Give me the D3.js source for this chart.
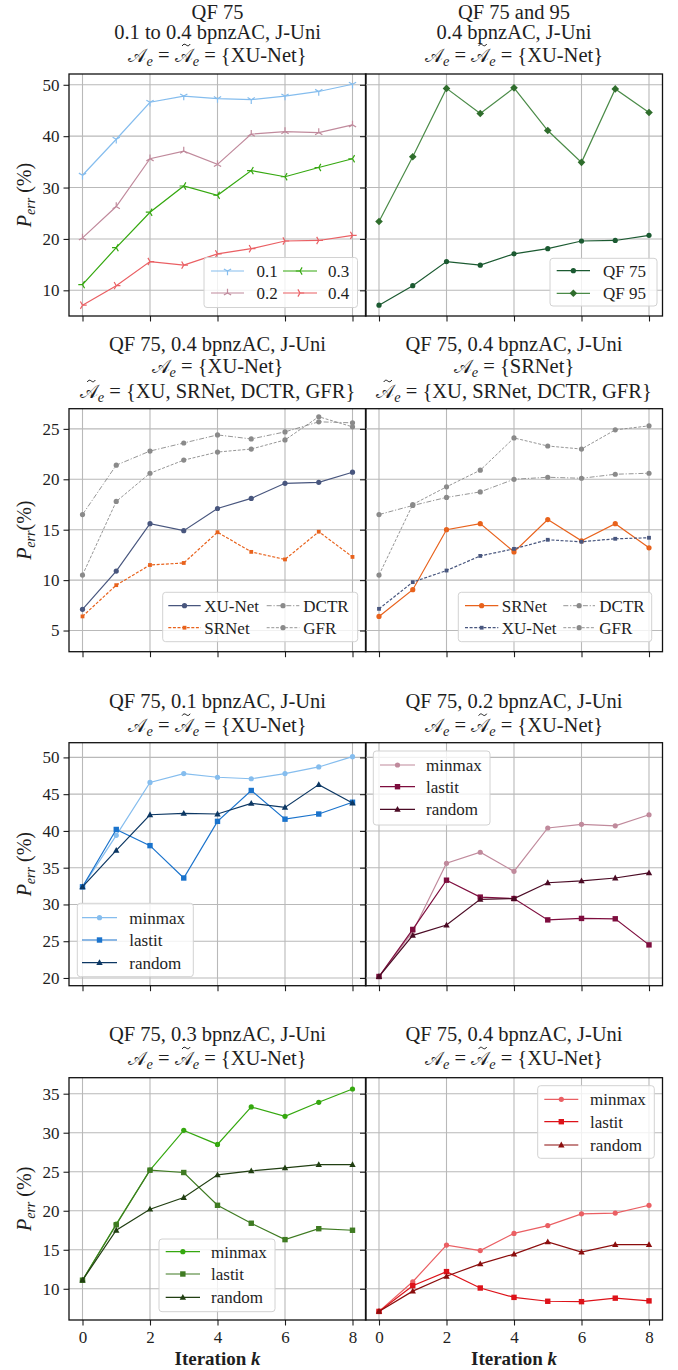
<!DOCTYPE html>
<html><head><meta charset="utf-8">
<script src="https://cdn.jsdelivr.net/npm/d3@7"></script>
<style>
body{margin:0;background:#fff}
svg{display:block}
svg text, svg tspan{font-family:"Liberation Serif",serif;fill:#1e1e1e}
svg tspan.cal{font-family:"Liberation Serif",serif}
</style>
</head><body>
<svg id="c" width="678" height="1370"></svg>
<script>
// ---------------- DATA ----------------
const iterations = [0,1,2,3,4,5,6,7,8];
const xTicks = [0,2,4,6,8];
const yTicksRow1 = [10,20,30,40,50];
const yTicksRow2 = [5,10,15,20,25];
const yTicksRow3 = [20,25,30,35,40,45,50];
const yTicksRow4 = [10,15,20,25,30,35];

// Panel 1: payload 0.1 .. 0.4 (minmax)
const rate01 = [32.4,39.4,46.6,47.8,47.3,47.1,47.8,48.7,50.1];
const rate02 = [20.2,26.3,35.6,37.1,34.5,40.4,40.9,40.7,42.2];
const rate03 = [11.1,18.3,25.2,30.3,28.5,33.3,32.1,33.9,35.6];
const rate04 = [7.1,10.9,15.6,14.9,17.1,18.1,19.6,19.7,20.7];
const rateLabels = ["0.1","0.2","0.3","0.4"];

// Panel 2: QF 75 and QF 95
const qf75 = [7.1,10.9,15.6,14.9,17.1,18.1,19.6,19.7,20.7];
const qf95 = [23.4,36.0,49.3,44.4,49.4,41.1,34.9,49.2,44.6];

// Panel 3: A_e = {XU-Net}
const xuXu   = [7.1,10.9,15.6,14.9,17.1,18.1,19.6,19.7,20.7];
const xuSr   = [6.4,9.5,11.5,11.7,14.75,12.8,12.05,14.8,12.3];
const xuDctr = [16.5,21.4,22.8,23.6,24.4,24.0,24.7,25.7,25.6];
const xuGfr  = [10.5,17.8,20.6,21.9,22.7,23.0,23.9,26.2,25.2];

// Panel 4: A_e = {SRNet}
const srSr   = [6.4,9.05,15.0,15.6,12.8,16.0,13.9,15.6,13.2];
const srXu   = [7.15,9.8,10.95,12.4,13.1,14.0,13.8,14.1,14.2];
const srDctr = [16.5,17.4,18.2,18.75,20.0,20.2,20.1,20.5,20.6];
const srGfr  = [10.5,17.5,19.25,20.9,24.1,23.3,23.0,24.9,25.3];

// Panels 5-8: minmax / lastit / random
const minmax01 = [32.4,39.4,46.6,47.8,47.3,47.1,47.8,48.7,50.1];
const lastit01 = [32.4,40.2,38.0,33.6,41.3,45.5,41.6,42.3,43.9];
const random01 = [32.4,37.35,42.2,42.4,42.3,43.75,43.2,46.3,43.8];
const minmax02 = [20.2,26.3,35.6,37.1,34.5,40.4,40.9,40.7,42.2];
const lastit02 = [20.2,26.6,33.3,31.0,30.8,27.9,28.1,28.05,24.5];
const random02 = [20.2,25.8,27.2,30.7,30.8,32.95,33.2,33.6,34.3];
const minmax03 = [11.1,18.3,25.2,30.3,28.5,33.3,32.1,33.9,35.6];
const lastit03 = [11.1,18.2,25.2,24.9,20.7,18.4,16.3,17.7,17.5];
const random03 = [11.1,17.5,20.2,21.7,24.6,25.1,25.5,25.9,25.9];
const minmax04 = [7.1,10.9,15.6,14.9,17.1,18.1,19.6,19.7,20.7];
const lastit04 = [7.1,10.4,12.2,10.1,8.9,8.4,8.35,8.8,8.45];
const random04 = [7.1,9.7,11.6,13.2,14.45,16.0,14.7,15.65,15.65];
const strategyLabels = ["minmax","lastit","random"];

// ---------------- LAYOUT ----------------
const svg = d3.select("#c");
const SERIF = "font-family:'Liberation Serif',serif";
const COLS = [{x0:69,x1:366},{x0:365.5,x1:662.5}];
const ROWS = [
  {y0:74,   y1:316,  dom:[5.0,52.1],   ticks:yTicksRow1, ylab:" (%)", titleY:[18.5,39,62]},
  {y0:408.7,y1:651.7,dom:[2.9,27.0],   ticks:yTicksRow2, ylab:"(%)",  titleY:[351,373,398]},
  {y0:742.7,y1:985.7,dom:[18.95,52.0], ticks:yTicksRow3, ylab:" (%)", titleY:[708.3,731.7]},
  {y0:1077.7,y1:1320,dom:[6.0,37.05],  ticks:yTicksRow4, ylab:" (%)", titleY:[1040.7,1065]}
];
const GRID = "#b9b9b9";
const TICKFS = 17, TITLEFS = 20.5;

const M = "\u{1D49C}"; // calligraphic A
const mathXU   = [{t:M,cal:1},{sub:"e"},{t:" = "},{t:M,cal:1,tilde:1},{sub:"e"},{t:" = {XU-Net}"}];
const mathXUo  = [{t:M,cal:1},{sub:"e"},{t:" = {XU-Net}"}];
const mathSRo  = [{t:M,cal:1},{sub:"e"},{t:" = {SRNet}"}];
const mathAll  = [{t:M,cal:1,tilde:1},{sub:"e"},{t:" = {XU, SRNet, DCTR, GFR}"}];

const C = {
  c01:"#85bdee", c02:"#c08a9c", c03:"#35a80f", c04:"#ea5f63",
  qf75:"#1b5a31", qf95:"#4b8b48", qf95m:"#2f6d2c",
  xu:"#48567e", sr:"#e8621c", grey:"#8a8a8a",
  l1:"#1a73cc", r1:"#0c3763", l2:"#7e0d3e", r2:"#4b0b25",
  l3:"#3f7b22", r3:"#213f12", l4:"#dd1219", r4:"#8b0d0d"
};

const panels = [
  {row:0,col:0,title:[[{t:"QF 75"}],[{t:"0.1 to 0.4 bpnzAC, J-Uni"}],mathXU],
   series:[
     {name:rateLabels[0],v:rate01,color:C.c01,marker:"tri_down"},
     {name:rateLabels[1],v:rate02,color:C.c02,marker:"tri_up"},
     {name:rateLabels[2],v:rate03,color:C.c03,marker:"tri_left"},
     {name:rateLabels[3],v:rate04,color:C.c04,marker:"tri_right"}],
   legend:{box:[204,257.5,153.5,50],cols:[[211,244,256.5],[283,317,328]],rows:[271,293]}},
  {row:0,col:1,title:[[{t:"QF 75 and 95"}],[{t:"0.4 bpnzAC, J-Uni"}],mathXU],
   series:[
     {name:"QF 75",v:qf75,color:C.qf75,marker:"circle"},
     {name:"QF 95",v:qf95,color:C.qf95,mcolor:C.qf95m,marker:"plus"}],
   legend:{box:[550,258.3,107,47.7],cols:[[556.7,590,603]],rows:[270.7,293.3]}},
  {row:1,col:0,title:[[{t:"QF 75, 0.4 bpnzAC, J-Uni"}],mathXUo,mathAll],
   series:[
     {name:"XU-Net",v:xuXu,color:C.xu,marker:"circle"},
     {name:"SRNet",v:xuSr,color:C.sr,marker:"smallsq",dash:"3,1.6"},
     {name:"DCTR",v:xuDctr,color:C.grey,marker:"circle",dash:"5,1.8,1.2,1.8",w:0.9},
     {name:"GFR",v:xuGfr,color:C.grey,marker:"circle",dash:"3,1.6",w:0.9}],
   legend:{box:[162.7,592.3,195,49.4],cols:[[168.3,200.7,204.3],[266.7,299.3,303.3]],rows:[605.7,627.7]}},
  {row:1,col:1,title:[[{t:"QF 75, 0.4 bpnzAC, J-Uni"}],mathSRo,mathAll],
   series:[
     {name:"SRNet",v:srSr,color:C.sr,marker:"circle"},
     {name:"XU-Net",v:srXu,color:C.xu,marker:"smallsq",dash:"3,1.6"},
     {name:"DCTR",v:srDctr,color:C.grey,marker:"circle",dash:"5,1.8,1.2,1.8",w:0.9},
     {name:"GFR",v:srGfr,color:C.grey,marker:"circle",dash:"3,1.6",w:0.9}],
   legend:{box:[458.3,592.3,193.4,49.4],cols:[[465,498.3,501.7],[563.3,595,599.3]],rows:[605.7,627.7]}},
  {row:2,col:0,title:[[{t:"QF 75, 0.1 bpnzAC, J-Uni"}],mathXU],
   series:[
     {name:strategyLabels[0],v:minmax01,color:C.c01,marker:"circle"},
     {name:strategyLabels[1],v:lastit01,color:C.l1,marker:"square"},
     {name:strategyLabels[2],v:random01,color:C.r1,marker:"triangle"}],
   legend:{box:[77.3,903.3,116,73.4],cols:[[82,117,129.3]],rows:[917.7,940,962.7]}},
  {row:2,col:1,title:[[{t:"QF 75, 0.2 bpnzAC, J-Uni"}],mathXU],
   series:[
     {name:strategyLabels[0],v:minmax02,color:C.c02,marker:"circle"},
     {name:strategyLabels[1],v:lastit02,color:C.l2,marker:"square"},
     {name:strategyLabels[2],v:random02,color:C.r2,marker:"triangle"}],
   legend:{box:[373.3,751,116.7,74],cols:[[380,415,426]],rows:[765,786.7,809.3]}},
  {row:3,col:0,title:[[{t:"QF 75, 0.3 bpnzAC, J-Uni"}],mathXU],
   series:[
     {name:strategyLabels[0],v:minmax03,color:C.c03,marker:"circle"},
     {name:strategyLabels[1],v:lastit03,color:C.l3,marker:"square"},
     {name:strategyLabels[2],v:random03,color:C.r3,marker:"triangle"}],
   legend:{box:[159,1239,116,72.7],cols:[[165.7,200,211]],rows:[1251.7,1274,1297.3]}},
  {row:3,col:1,title:[[{t:"QF 75, 0.4 bpnzAC, J-Uni"}],mathXU],
   series:[
     {name:strategyLabels[0],v:minmax04,color:C.c04,marker:"circle"},
     {name:strategyLabels[1],v:lastit04,color:C.l4,marker:"square"},
     {name:strategyLabels[2],v:random04,color:C.r4,marker:"triangle"}],
   legend:{box:[537.7,1085.7,116.6,72.6],cols:[[544.3,578.3,590]],rows:[1099.3,1121.7,1145]}}
];

// ---------------- HELPERS ----------------
function marker(g, type, x, y, color) {
  const s = 4.2;
  if (type === "circle") {
    g.append("circle").attr("cx",x).attr("cy",y).attr("r",2.6).attr("fill",color);
  } else if (type === "square") {
    g.append("rect").attr("x",x-2.7).attr("y",y-2.7).attr("width",5.4).attr("height",5.4).attr("fill",color);
  } else if (type === "smallsq") {
    g.append("rect").attr("x",x-1.9).attr("y",y-1.9).attr("width",3.8).attr("height",3.8).attr("fill",color);
  } else if (type === "triangle") {
    g.append("path").attr("d",`M${x},${y-3.4}L${x+3.2},${y+2.4}L${x-3.2},${y+2.4}Z`).attr("fill",color);
  } else if (type === "plus") {
    g.append("path").attr("d",`M${x},${y-3.8}L${x+3.8},${y}L${x},${y+3.8}L${x-3.8},${y}Z`).attr("fill",color);
  } else if (type.startsWith("tri_")) {
    const ang = {tri_down:90, tri_up:-90, tri_left:180, tri_right:0}[type];
    let d = "";
    [0,120,240].forEach(a => {
      const r = (ang + a) * Math.PI/180;
      d += `M${x},${y}L${x+s*Math.cos(r)},${y+s*Math.sin(r)}`;
    });
    g.append("path").attr("d",d).attr("stroke",color).attr("stroke-width",1.2).attr("fill","none");
  }
}

function mathText(g, cx, y, spec, fs) {
  const t = g.append("text").attr("x",cx).attr("y",y).attr("text-anchor","middle")
    .attr("font-size",fs).attr("style",SERIF);
  let shifted = false; const tildes = [];
  spec.forEach(s => {
    const ts = t.append("tspan");
    if (s.sub) {
      ts.attr("font-size",fs*0.7).attr("dy",4).attr("font-style","italic").attr("style",SERIF).text(s.sub);
      shifted = true;
    } else {
      if (shifted) { ts.attr("dy",-4); shifted = false; }
      ts.text(s.t);
      if (s.cal) ts.attr("class","cal").attr("font-size",fs*0.95);
      else ts.attr("style",SERIF);
      if (s.tilde) tildes.push(ts);
    }
  });
  tildes.forEach(ts => {
    let b; try { b = ts.node().getBBox(); } catch(e) { b = null; }
    if (!b) return;
    const mx = b.x + b.width/2 + 1.5, my = y - 17;
    g.append("path")
      .attr("d",`M${mx-4},${my+1}c1.2,-2.2 2.6,-2.2 4,-1s2.8,1.2 4,-1`)
      .attr("stroke","#1e1e1e").attr("stroke-width",1).attr("fill","none");
  });
}

// ---------------- DRAW ----------------
panels.forEach(p => {
  const R = ROWS[p.row], CC = COLS[p.col];
  const x = d3.scaleLinear().domain([-0.4,8.4]).range([CC.x0,CC.x1]);
  const y = d3.scaleLinear().domain(R.dom).range([R.y1,R.y0]);
  const g = svg.append("g");

  // grid
  g.append("g").selectAll("line").data(xTicks).join("line")
    .attr("x1",d=>x(d)).attr("x2",d=>x(d)).attr("y1",R.y0).attr("y2",R.y1)
    .attr("stroke",GRID).attr("stroke-width",1.1);
  g.append("g").selectAll("line").data(R.ticks).join("line")
    .attr("x1",CC.x0).attr("x2",CC.x1).attr("y1",d=>y(d)).attr("y2",d=>y(d))
    .attr("stroke",GRID).attr("stroke-width",1.1);

  // axes
  const ya = d3.axisLeft(y).tickValues(R.ticks).tickSize(5.5).tickPadding(4);
  if (p.col === 1) ya.tickFormat("");
  const yg = g.append("g").attr("transform",`translate(${CC.x0},0)`).call(ya);
  const xa = d3.axisBottom(x).tickValues(xTicks).tickSize(5.5).tickPadding(5);
  if (p.row !== 3) xa.tickFormat("");
  const xg = g.append("g").attr("transform",`translate(0,${R.y1})`).call(xa);
  [yg,xg].forEach(a => {
    a.attr("font-family",null).attr("font-size",null);
    a.select(".domain").remove();
    a.selectAll(".tick line").attr("stroke","#1e1e1e").attr("stroke-width",1.1);
    a.selectAll(".tick text").attr("style",SERIF).attr("font-size",TICKFS).attr("fill","#1e1e1e");
  });

  // series
  const line = d3.line().x((d,i)=>x(iterations[i])).y(d=>y(d));
  p.series.forEach(s => {
    g.append("path").datum(s.v).attr("d",line).attr("fill","none")
      .attr("stroke",s.color).attr("stroke-width",s.w||1.2)
      .attr("stroke-dasharray",s.dash||null);
    const mg = g.append("g");
    s.v.forEach((v,i) => marker(mg, s.marker, x(iterations[i]), y(v), s.mcolor||s.color));
  });

  // spines
  g.append("rect").attr("x",CC.x0).attr("y",R.y0).attr("width",CC.x1-CC.x0).attr("height",R.y1-R.y0)
    .attr("fill","none").attr("stroke","#111").attr("stroke-width",1.3);

  // legend
  const L = p.legend, lg = svg.append("g");
  lg.append("rect").attr("x",L.box[0]).attr("y",L.box[1]).attr("width",L.box[2]).attr("height",L.box[3])
    .attr("rx",3).attr("fill","#fff").attr("fill-opacity",0.8).attr("stroke","#d2d2d2").attr("stroke-width",1);
  const nrows = L.rows.length;
  p.series.forEach((s,i) => {
    const c = L.cols[Math.floor(i/nrows)], ry = L.rows[i%nrows];
    lg.append("line").attr("x1",c[0]).attr("x2",c[1]).attr("y1",ry).attr("y2",ry)
      .attr("stroke",s.color).attr("stroke-width",s.w||1.2).attr("stroke-dasharray",s.dash||null);
    marker(lg, s.marker, (c[0]+c[1])/2, ry, s.mcolor||s.color);
    lg.append("text").attr("x",c[2]).attr("y",ry+6).attr("font-size",TICKFS).attr("style",SERIF).text(s.name);
  });

  // title
  const cx = (CC.x0+CC.x1)/2;
  p.title.forEach((spec,i) => mathText(svg, cx, R.titleY[i], spec, TITLEFS));

  // y label (left column only)
  if (p.col === 0) {
    const cy = (R.y0+R.y1)/2;
    const yl = svg.append("text").attr("transform",`translate(31,${cy}) rotate(-90)`)
      .attr("text-anchor","middle").attr("font-size",20).attr("style",SERIF);
    yl.append("tspan").attr("font-style","italic").text("P");
    yl.append("tspan").attr("font-style","italic").attr("font-size",14).attr("dy",4).text("err");
    yl.append("tspan").attr("dy",-4).text(R.ylab);
  }
  // x label (bottom row)
  if (p.row === 3) {
    const xl = svg.append("text").attr("x",cx).attr("y",1365).attr("text-anchor","middle")
      .attr("font-size",19).attr("font-weight","bold").attr("style",SERIF);
    xl.append("tspan").text("Iteration ");
    xl.append("tspan").attr("font-style","italic").text("k");
  }
});
</script>
</body></html>
